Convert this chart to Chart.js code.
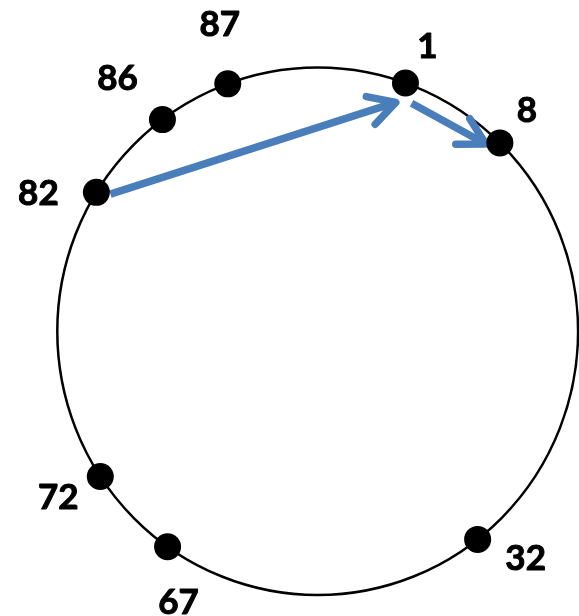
<!DOCTYPE html>
<html lang="en">
<head>
  <meta charset="UTF-8">
  <title>Chord ring</title>
  <script src="https://cdn.jsdelivr.net/npm/chart.js"></script>
  <style>
    html, body { margin: 0; padding: 0; background: #fff; }
    canvas { display: block; }
  </style>
</head>
<body>
  <canvas id="ringChart" width="579" height="616"></canvas>

  <script>
    // nodes on the ring, angle in degrees clockwise from the top
    const nodeIds = [1, 8, 32, 67, 72, 82, 86, 87];
    const nodeAngle = [19.7, 44.4, 142.1, 215.2, 236.6, 301.8, 323.4, 339.8];

    // lookup arrows (from node -> to node)
    const arrowFrom = [82, 1];
    const arrowTo = [1, 8];

    // layout only: where each label sits relative to its dot (px)
    const labelDx = [22, 27, 48, 11, -42, -58, -45, -8];
    const labelDy = [-38, -34, 18, 55, 20, 0, -42, -60];
    // arrow trims / shifts (px) along and across the from->to line
    const arrowStart = [[12.6, 6.4], [16, 13.8]];
    const arrowEnd = [[-15.6, 15], [-11.3, 8.5]];

    const blue = '#4A7EBB';

    const points = nodeAngle.map(a => {
      const r = a * Math.PI / 180;
      return { x: Math.sin(r), y: Math.cos(r) };
    });

    function nodePx(chart, id) {
      const i = nodeIds.indexOf(id);
      return {
        x: chart.scales.x.getPixelForValue(points[i].x),
        y: chart.scales.y.getPixelForValue(points[i].y)
      };
    }

    const ringPlugin = {
      id: 'ring',
      beforeDatasetsDraw(chart) {
        const ctx = chart.ctx;
        const sx = chart.scales.x, sy = chart.scales.y;
        const cx = sx.getPixelForValue(0), cy = sy.getPixelForValue(0);
        const rx = sx.getPixelForValue(1) - cx;
        const ry = cy - sy.getPixelForValue(1);
        ctx.save();
        ctx.beginPath();
        ctx.ellipse(cx, cy, rx, ry, 0, 0, Math.PI * 2);
        ctx.lineWidth = 2.5;
        ctx.strokeStyle = '#000';
        ctx.stroke();

        // arrows
        ctx.strokeStyle = blue;
        ctx.lineWidth = 7.5;
        ctx.lineJoin = 'round';
        arrowFrom.forEach((f, k) => {
          const a = nodePx(chart, f), b = nodePx(chart, arrowTo[k]);
          const len = Math.hypot(b.x - a.x, b.y - a.y);
          const dx = (b.x - a.x) / len, dy = (b.y - a.y) / len;
          const nx = -dy, ny = dx;
          const s = { x: a.x + dx * arrowStart[k][0] + nx * arrowStart[k][1],
                      y: a.y + dy * arrowStart[k][0] + ny * arrowStart[k][1] };
          const e = { x: b.x + dx * arrowEnd[k][0] + nx * arrowEnd[k][1],
                      y: b.y + dy * arrowEnd[k][0] + ny * arrowEnd[k][1] };
          ctx.lineCap = 'butt';
          ctx.beginPath();
          ctx.moveTo(s.x, s.y);
          ctx.lineTo(e.x, e.y);
          ctx.stroke();
          // open head
          const ang = Math.atan2(e.y - s.y, e.x - s.x);
          const head = 30, spread = 29 * Math.PI / 180;
          ctx.lineCap = 'round';
          ctx.beginPath();
          ctx.moveTo(e.x - head * Math.cos(ang - spread), e.y - head * Math.sin(ang - spread));
          ctx.lineTo(e.x, e.y);
          ctx.lineTo(e.x - head * Math.cos(ang + spread), e.y - head * Math.sin(ang + spread));
          ctx.stroke();
        });
        ctx.restore();
      },
      afterDatasetsDraw(chart) {
        const ctx = chart.ctx;
        ctx.save();
        ctx.font = 'bold 35px Lato';
        ctx.fillStyle = '#000';
        ctx.strokeStyle = '#000';
        ctx.lineWidth = 1;
        ctx.lineJoin = 'round';
        ctx.textAlign = 'center';
        ctx.textBaseline = 'alphabetic';
        nodeIds.forEach((id, i) => {
          const p = nodePx(chart, id);
          const tx = p.x + labelDx[i], ty = p.y + labelDy[i] + 12.6;
          ctx.fillText(String(id), tx, ty);
          ctx.strokeText(String(id), tx, ty);
        });
        ctx.restore();
      }
    };

    new Chart(document.getElementById('ringChart'), {
      type: 'scatter',
      data: {
        datasets: [{
          label: 'nodes',
          data: points,
          pointRadius: 13.5,
          pointHoverRadius: 13.5,
          backgroundColor: '#000',
          borderColor: '#000',
          borderWidth: 0,
          clip: false
        }]
      },
      options: {
        responsive: false,
        animation: false,
        layout: { padding: 0, autoPadding: false },
        plugins: { legend: { display: false }, tooltip: { enabled: false } },
        scales: {
          x: { type: 'linear', display: false, min: -1.220, max: 1.0035 },
          y: { type: 'linear', display: false, min: -1.0796, max: 1.2564 }
        }
      },
      plugins: [ringPlugin]
    });
  </script>
</body>
</html>
